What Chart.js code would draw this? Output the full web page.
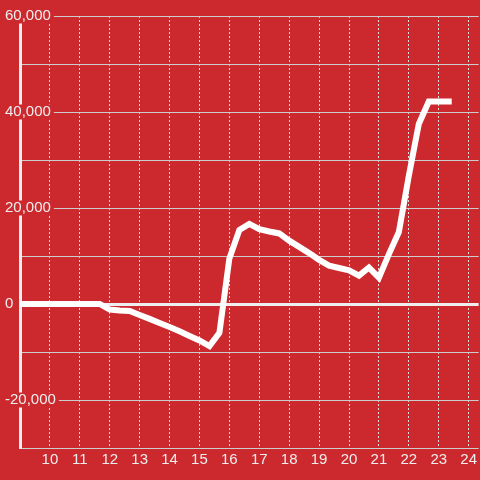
<!DOCTYPE html>
<html>
<head>
<meta charset="utf-8">
<script src="https://cdn.jsdelivr.net/npm/chart.js@4"></script>
<style>
  html, body { margin: 0; padding: 0; background: #cc292e; }
  #wrap { width: 480px; height: 480px; }
</style>
</head>
<body>
<div id="wrap"><canvas id="myChart"></canvas></div>
<script>
// time of day, every 20 minutes
const times = ['09:00', '09:20', '09:40', '10:00', '10:20', '10:40', '11:00', '11:20', '11:40',
  '12:00', '12:20', '12:40', '13:00', '13:20', '13:40', '14:00', '14:20', '14:40',
  '15:00', '15:20', '15:40', '16:00', '16:20', '16:40', '17:00', '17:20', '17:40',
  '18:00', '18:20', '18:40', '19:00', '19:20', '19:40', '20:00', '20:20', '20:40',
  '21:00', '21:20', '21:40', '22:00', '22:20', '22:40', '23:00', '23:20'];

const values = [0, 0, 0, 0, 0, 0, 0, 0, 0,
  -1150, -1350, -1450, -2300, -3100, -3950, -4800, -5700, -6650,
  -7600, -8750, -6000, 9500, 15400, 16700, 15600, 15100, 14700,
  13200, 11900, 10600, 9200, 8000, 7500, 7000, 5900, 7600,
  5500, 10400, 15000, 26700, 37500, 42200, 42200, 42200];

// axis ticks
const xTicks = [10, 11, 12, 13, 14, 15, 16, 17, 18, 19, 20, 21, 22, 23, 24];
const yLabelled = [-20000, 0, 20000, 40000, 60000];

const bg = '#cc292e';
const font = { family: '"Liberation Sans", Arial, sans-serif', size: 15 };

// "HH:MM" -> decimal hour
const toHour = (t) => {
  let [h, m] = t.split(':').map(Number);
  return h + m / 60;
};

const points = times.map((t, i) => ({ x: toHour(t), y: values[i] }));

const ctx = document.getElementById('myChart').getContext('2d');
const myChart = new Chart(ctx, {
  type: 'line',
  data: {
    datasets: [{
      data: points,
      borderColor: '#ffffff',
      borderWidth: 6,
      borderCapStyle: 'square',
      pointRadius: 0,
      tension: 0,
      fill: false
    }]
  },
  options: {
    responsive: true,
    maintainAspectRatio: false,
    animation: false,
    layout: { padding: { left: 5, top: 16, right: 0, bottom: 0 } },
    plugins: {
      legend: { display: false },
      tooltip: { enabled: false }
    },
    scales: {
      x: {
        type: 'linear',
        min: 9,
        max: 24 + 1 / 3,
        afterBuildTicks: (axis) => {
          axis.ticks = xTicks.map(v => ({ value: v }));
        },
        afterFit: (axis) => { axis.height = 32; },
        ticks: {
          stepSize: 1,
          autoSkip: false,
          maxRotation: 0,
          padding: 3,
          color: '#eeeeee',
          font: font,
          callback: (v) => String(v)
        },
        grid: {
          color: '#dddddd',
          lineWidth: 1,
          drawTicks: false
        },
        border: { display: false, dash: [2, 2] }
      },
      y: {
        min: -30000,
        max: 60000,
        afterFit: (axis) => { axis.width = 15; },
        ticks: {
          stepSize: 10000,
          mirror: true,
          crossAlign: 'near',
          padding: -15,
          color: '#eeeeee',
          font: { family: font.family, size: 15, lineHeight: 1 },
          showLabelBackdrop: true,
          backdropColor: bg,
          backdropPadding: { top: 0, bottom: 0, left: 2, right: 3 },
          callback: (v) => yLabelled.includes(v) ? v.toLocaleString('en-US') : ''
        },
        grid: {
          color: (c) => c.tick && c.tick.value === 0 ? '#eeeeee' : '#cccccc',
          lineWidth: (c) => c.tick && c.tick.value === 0 ? 3 : 1,
          drawTicks: false
        },
        border: { display: true, color: '#eeeeee', width: 3 }
      }
    }
  }
});
</script>
</body>
</html>
